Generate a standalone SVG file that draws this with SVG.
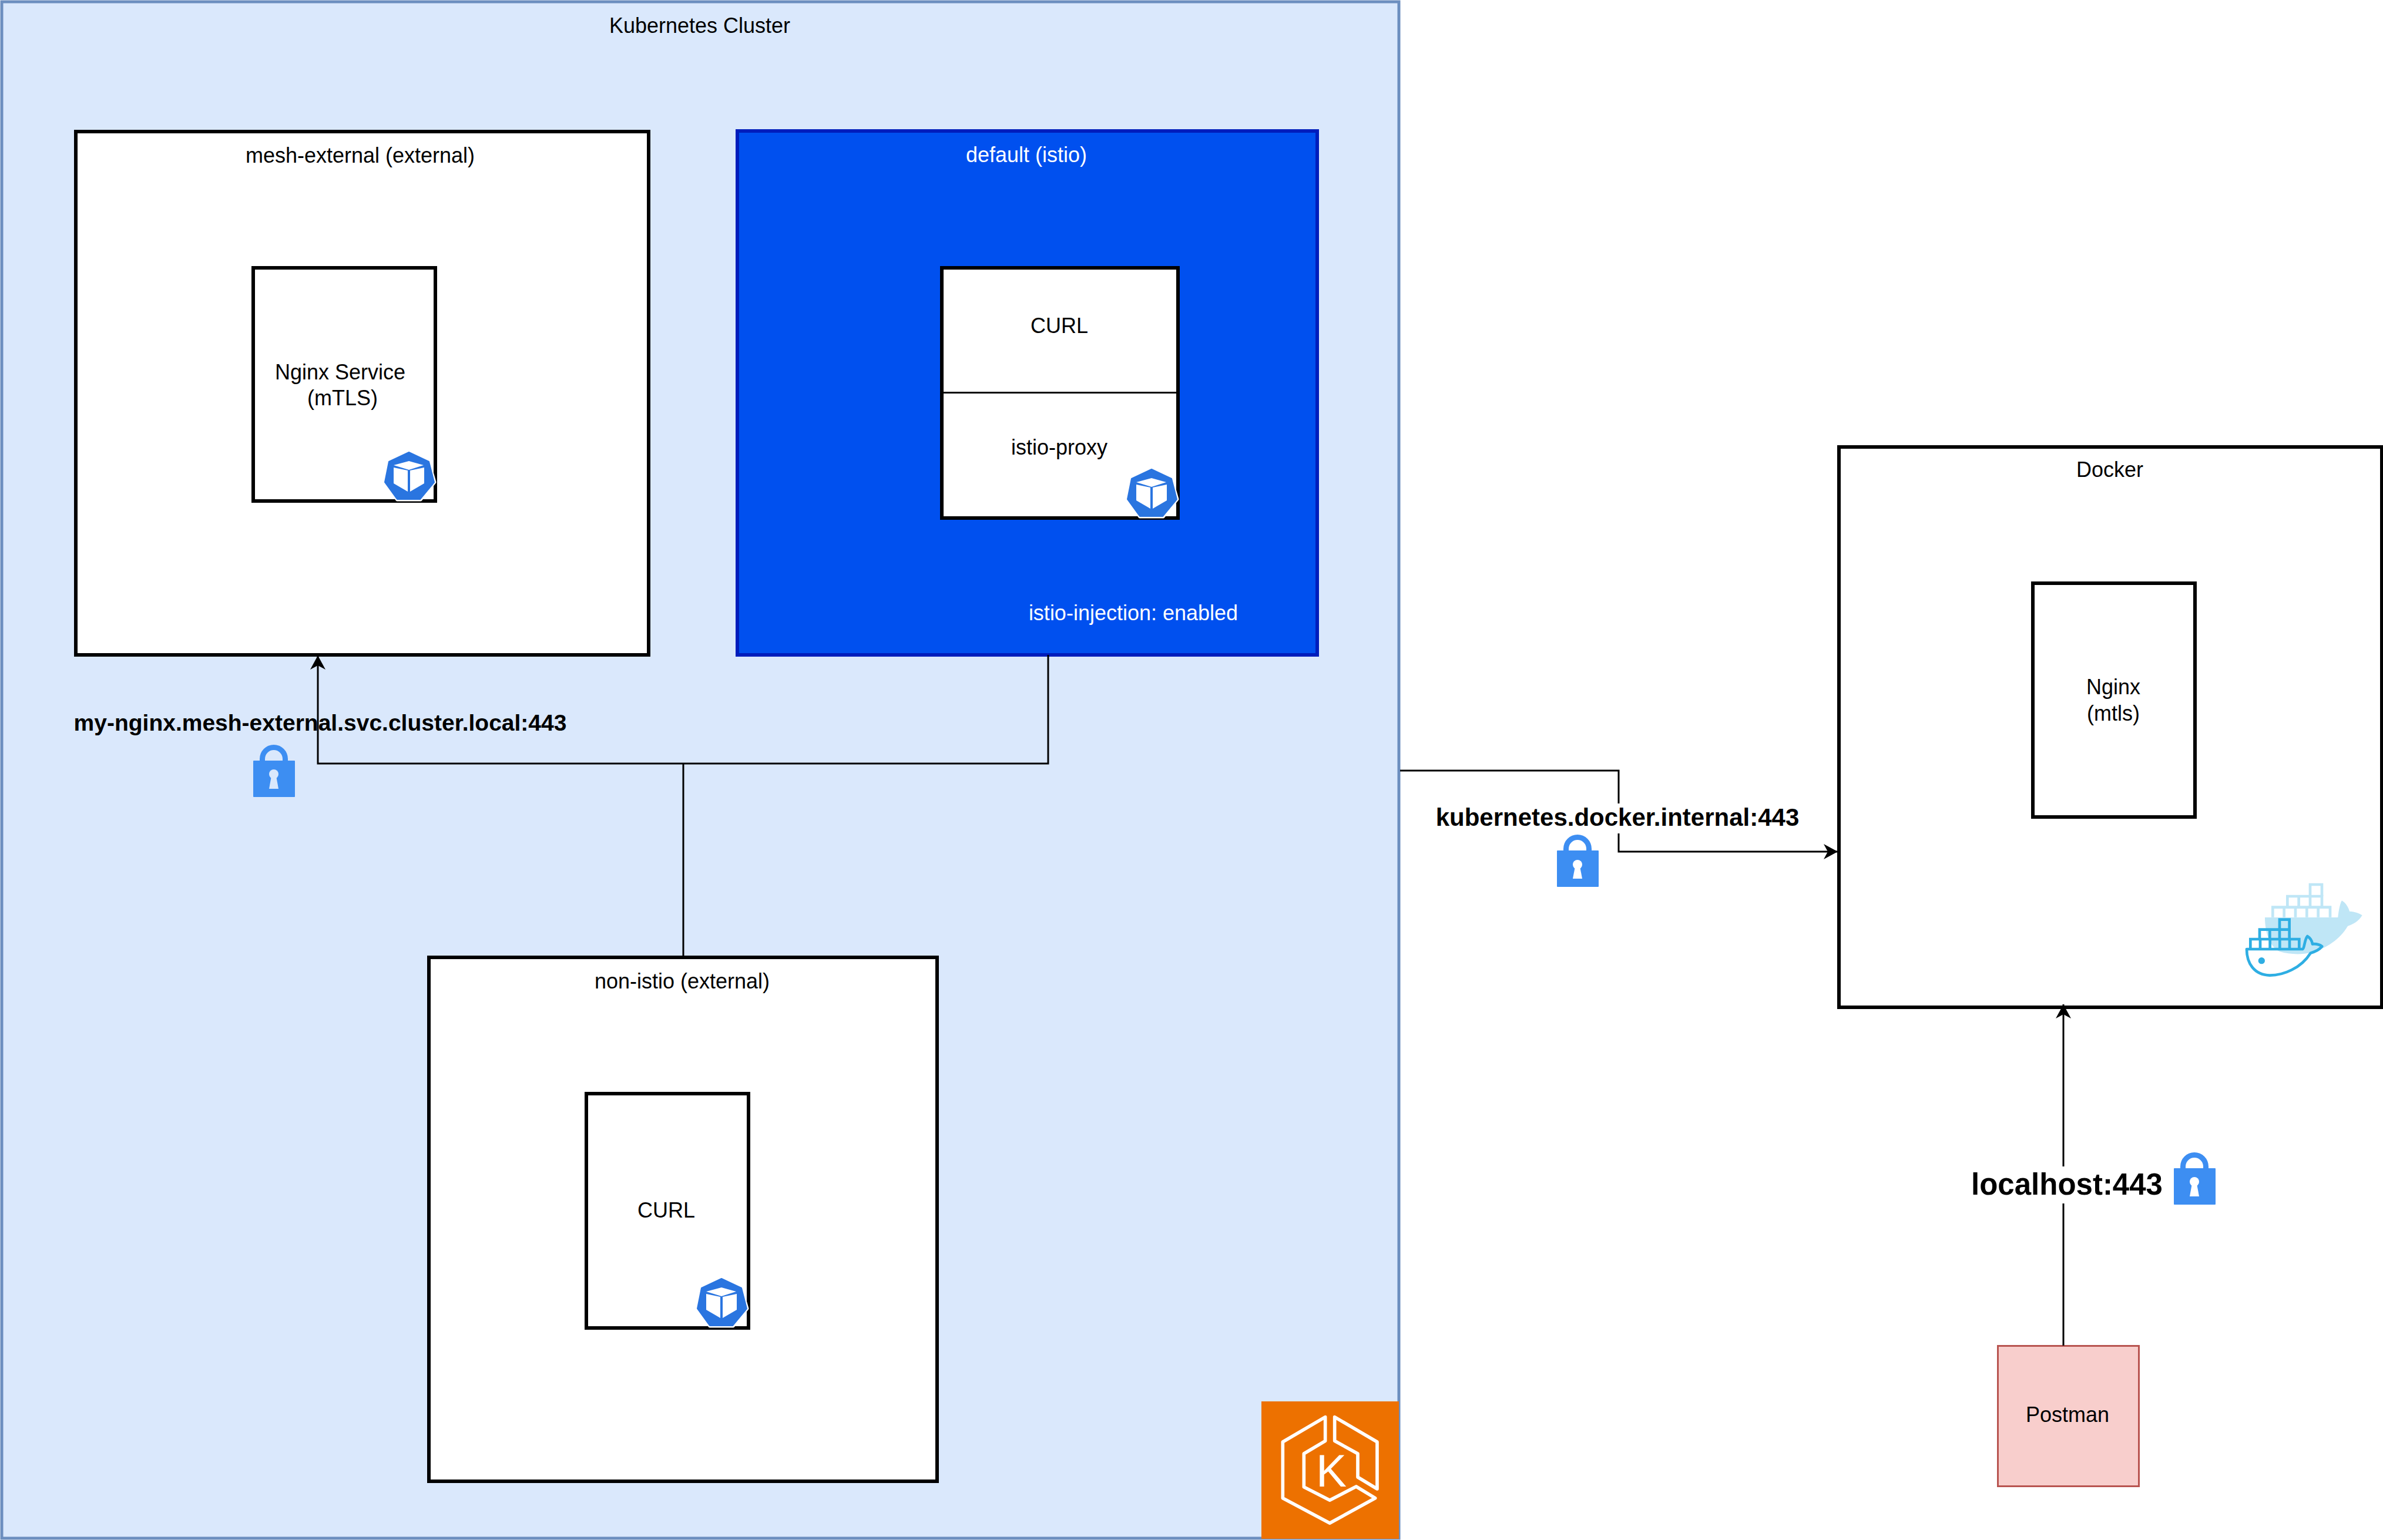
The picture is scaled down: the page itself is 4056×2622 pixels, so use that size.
<svg xmlns="http://www.w3.org/2000/svg" xmlns:xlink="http://www.w3.org/1999/xlink" width="4056" height="2622" viewBox="0 0 4056 2622">
<style>
text{font-family:"Liberation Sans",Arial,Helvetica,sans-serif;font-size:36px;fill:#000;text-anchor:middle}
.w{fill:#fff}
.b{font-weight:bold;font-size:42px}
.box{fill:#fff;stroke:#000;stroke-width:6}
.c{fill:none;stroke:#000;stroke-width:3}
.lk{fill:#3d8ef2}
</style>
<defs>
<marker id="arr" markerUnits="userSpaceOnUse" markerWidth="30" markerHeight="30" viewBox="0 0 30 30" refX="26" refY="15" orient="auto"><path d="M26 15 L2 2 L9 15 L2 28 Z" fill="#000"/></marker>
<g id="kube">
<path d="M0 0 L34 16 L44 51 L20 81 L-20 81 L-42 51 L-34 16 Z" fill="#fff" stroke="#fff" stroke-width="5" stroke-linejoin="round"/>
<path d="M0 0 L34 16 L43 51 L19 80 L-20 80 L-41 51 L-34 16 Z" fill="#2a75e0" stroke="#2a75e0" stroke-width="2" stroke-linejoin="round"/>
<path d="M0 15 L25 22 L0 30 L-26 22 Z M-26 26 L-2 31 L-2 67 L-26 53 Z M2 31 L26 26 L26 53 L2 67 Z" fill="#fff"/>
</g>
<g id="lockbase">
<path d="M11 30 V25 A24 24 0 0 1 59 25 V30 H50 V25 A15 15 0 0 0 20 25 V30 Z" class="lk"/>
<rect x="0" y="28" width="71" height="62" rx="1" class="lk"/>
</g>
</defs>

<g id="kubernetes-cluster">
<rect x="3" y="3" width="2378" height="2616" fill="#dae8fc" stroke="#6c8ebf" stroke-width="5"/>
<text x="1191" y="56">Kubernetes Cluster</text>
</g>

<g id="eks-icon">
<rect x="2147" y="2386" width="234" height="234" fill="#ed7100"/>
<g transform="translate(2120 2360) scale(.3333)" fill="none" stroke="#fff" stroke-width="17" stroke-linejoin="round">
<path d="M407 158 L190 285 V572 L430 700 L662 572 L565 513 L430 583 L298 515 V345 L407 280 Z"/>
<path d="M455 158 L672 285 V525 L573 465 V345 L455 280 Z"/>
</g>
<text x="2266" y="2531" class="w" style="font-size:78px">K</text>
</g>

<g id="mesh-external">
<rect x="129" y="224" width="975" height="891" class="box"/>
<text x="613" y="277">mesh-external (external)</text>
</g>
<g id="nginx-service">
<rect x="431" y="456" width="310" height="397" class="box"/>
<text x="579" y="646">Nginx Service</text>
<text x="583" y="690">(mTLS)</text>
<use href="#kube" x="696" y="770"/>
</g>

<g id="default-istio">
<rect x="1255" y="223" width="987" height="892" fill="#0050ef" stroke="#001dbc" stroke-width="6"/>
<text x="1747" y="276" class="w">default (istio)</text>
<text x="1929" y="1056" class="w">istio-injection: enabled</text>
</g>
<g id="curl-proxy">
<rect x="1603" y="456" width="402" height="426" class="box"/>
<path d="M1603 668.500 H2005" stroke="#000" stroke-width="3"/>
<text x="1803" y="567">CURL</text>
<text x="1803" y="774">istio-proxy</text>
<use href="#kube" x="1960" y="799"/>
</g>

<g id="non-istio">
<rect x="730" y="1630" width="865" height="892" class="box"/>
<text x="1161" y="1683">non-istio (external)</text>
</g>
<g id="curl">
<rect x="998" y="1862" width="276" height="399" class="box"/>
<text x="1134" y="2073">CURL</text>
<use href="#kube" x="1228" y="2177"/>
</g>

<g id="docker">
<rect x="3130" y="761" width="924" height="954" class="box"/>
<text x="3591" y="812">Docker</text>
<g transform="translate(3700 1450) scale(.3333)">
<g fill="none" stroke="#bfe6f6" stroke-width="14">
<path d="M505 335 V284 H798 V335 M563 284 V335 M621 284 V335 M679 284 V335 M737 284 V335"/>
<path d="M580 284 V228 H756 V284 M638 228 V284 M696 228 V284"/>
<path d="M696 228 V168 H756 V228"/>
</g>
<path d="M465 336 H838 C842 295 850 262 858 250 C878 262 892 285 897 305 C925 307 948 315 962 325 C945 355 915 372 888 380 C850 445 780 495 700 515 C650 528 590 525 540 510 C495 490 465 420 465 336 Z" fill="#bfe6f6"/>
<g fill="none" stroke="#2eaee3" stroke-width="14">
<path d="M391 492 V447 H640 V492 M441 447 V492 M491 447 V492 M541 447 V492 M591 447 V492"/>
<path d="M438 447 V398 H590 V447 M490 398 V447 M540 398 V447"/>
<path d="M540 398 V347 H590 V398"/>
<path d="M372 498 H655 C668 498 666 450 682 432 C698 442 706 458 708 472 C730 470 746 476 757 484 C740 505 720 512 698 518 C650 595 560 632 490 632 C410 630 372 570 372 498 Z" stroke-linejoin="round"/>
</g>
<circle cx="448" cy="557" r="17" fill="#2eaee3"/>
</g>
</g>
<g id="nginx-mtls">
<rect x="3460" y="993" width="276" height="398" class="box"/>
<text x="3597" y="1182">Nginx</text>
<text x="3597" y="1227">(mtls)</text>
</g>

<g id="postman">
<rect x="3400.500" y="2291.500" width="240" height="239" fill="#f8cecc" stroke="#b85450" stroke-width="3"/>
<text x="3519" y="2421">Postman</text>
</g>

<g id="connectors">
<path class="c" d="M1784 1115 V1300 H541 V1116" marker-end="url(#arr)"/>
<path class="c" d="M1163 1630 V1300"/>
<path class="c" d="M2383 1312 H2755 V1450 H3128" marker-end="url(#arr)"/>
<path class="c" d="M3512 2291 V1710" marker-end="url(#arr)"/>
</g>

<g id="label-my-nginx">
<text x="545" y="1244" class="b" style="font-size:39px">my-nginx.mesh-external.svc.cluster.local:443</text>
<g transform="translate(431 1267)"><use href="#lockbase"/><circle cx="35" cy="51" r="8" fill="#dae8fc"/><path d="M31 54 H39 L43 76 H27 Z" fill="#dae8fc"/></g>
</g>
<g id="label-kubernetes">
<rect x="2446" y="1368" width="614" height="51" fill="#fff"/>
<text x="2753" y="1406" class="b">kubernetes.docker.internal:443</text>
<g transform="translate(2650 1420)"><use href="#lockbase"/><circle cx="35" cy="52" r="8" fill="#fff"/><path d="M31 55 H39 L43 76 H27 Z" fill="#fff"/></g>
</g>
<g id="label-localhost">
<rect x="3357" y="1986" width="322" height="63" fill="#fff"/>
<text x="3518" y="2034" class="b" style="font-size:51px">localhost:443</text>
<g transform="translate(3700 1961)"><use href="#lockbase"/><circle cx="35" cy="51" r="8" fill="#fff"/><path d="M31 54 H39 L43 76 H27 Z" fill="#fff"/></g>
</g>
</svg>
